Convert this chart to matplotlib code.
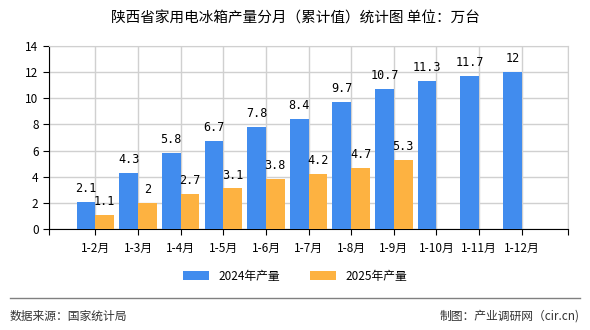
import matplotlib.pyplot as plt
import numpy as np

plt.rcParams['font.family'] = ['Noto Sans CJK SC', 'DejaVu Sans']

months = ['1-2月', '1-3月', '1-4月', '1-5月', '1-6月', '1-7月', '1-8月',
          '1-9月', '1-10月', '1-11月', '1-12月']
v2024 = [2.1, 4.3, 5.8, 6.7, 7.8, 8.4, 9.7, 10.7, 11.3, 11.7, 12]
v2025 = [1.1, 2, 2.7, 3.1, 3.8, 4.2, 4.7, 5.3]
yticks = [0, 2, 4, 6, 8, 10, 12, 14]

blue = '#418CEE'
orange = '#FDB241'

fig = plt.figure(figsize=(5.9, 3.3), dpi=100)
ax = fig.add_axes([0.083, 0.306, 0.88, 0.555])

x = np.arange(len(months))
w = 0.44
b1 = ax.bar(x[:len(v2024)] - w / 2, v2024, w, color=blue, label='2024年产量', zorder=3)
b2 = ax.bar(x[:len(v2025)] + w / 2, v2025, w, color=orange, label='2025年产量', zorder=3)

for bars, vals in ((b1, v2024), (b2, v2025)):
    for r, v in zip(bars, vals):
        ax.annotate('%g' % v, (r.get_x() + r.get_width() / 2, r.get_height()),
                    xytext=(0, 5), textcoords='offset points', ha='center',
                    va='bottom', fontsize=8.5, family=['DejaVu Sans Mono'])

lo, hi = -1.09, len(months) - 1 + 1.09
ax.set_xlim(lo, hi)
ax.set_ylim(0, 14)
ax.set_yticks(yticks)
ax.set_xticks([lo] + list(x) + [hi])
ax.set_xticklabels([''] + months + [''], fontsize=8.5)
ax.tick_params(axis='y', labelsize=8.5, length=4)
ax.tick_params(axis='x', length=4, pad=5)
ax.grid(True, color='#d0d0d0', linewidth=1, zorder=0)
ax.set_axisbelow(True)
for s in ('top', 'right'):
    ax.spines[s].set_color('#d0d0d0')
ax.spines['left'].set_color('black')
ax.spines['bottom'].set_color('black')

fig.text(0.5, 0.945, '陕西省家用电冰箱产量分月（累计值）统计图 单位：万台',
         ha='center', va='center', fontsize=10.5)
fig.legend(loc='center', bbox_to_anchor=(0.5, 0.163), ncol=2, frameon=False,
           fontsize=8.5, handlelength=2.2, handleheight=0.8, columnspacing=2.5)
fig.add_artist(plt.Line2D([0.017, 0.983], [0.097, 0.097], color='#808080', linewidth=1))
fig.text(0.017, 0.042, '数据来源：国家统计局', ha='left', va='center', fontsize=8.5, color='#333333')
fig.text(0.983, 0.042, '制图：产业调研网（cir.cn)', ha='right', va='center', fontsize=8.5, color='#333333')

fig.savefig('out.png', dpi=100)
